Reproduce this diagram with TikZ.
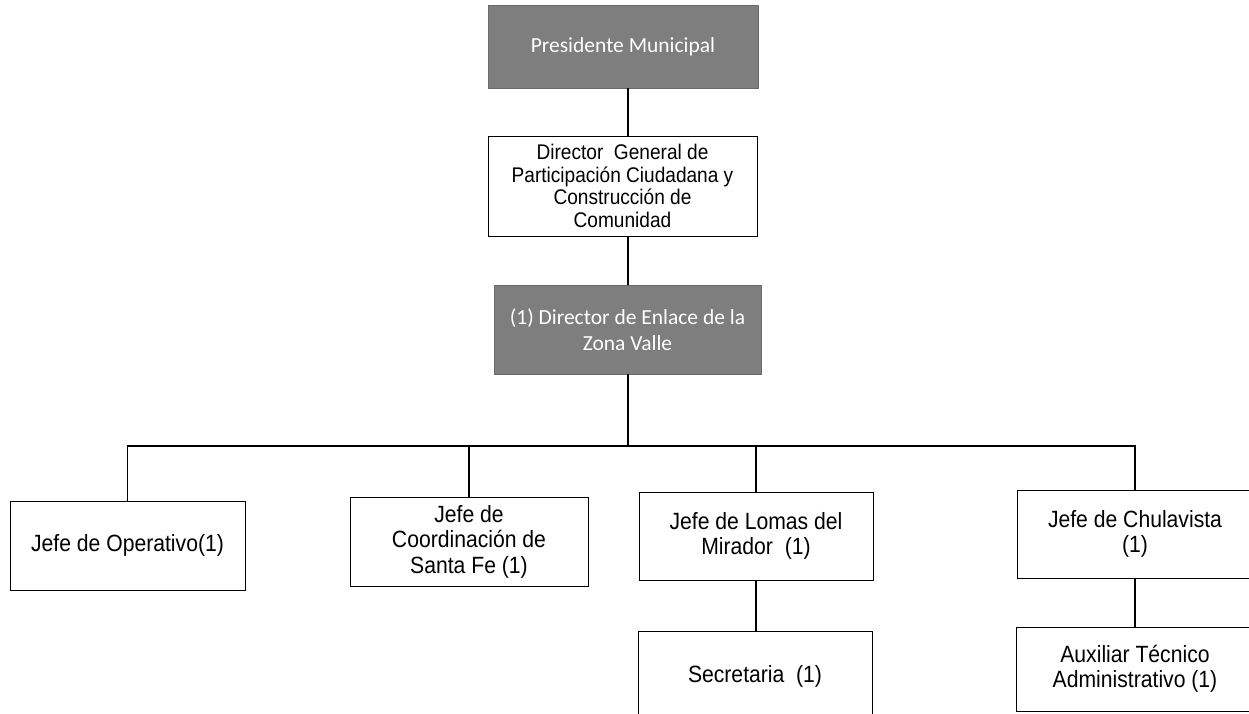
\documentclass[tikz,border=0pt]{standalone}
\usepackage{fontspec}
\setmainfont{Liberation Sans}[FakeStretch=0.9]
\newfontfamily\headfont{Carlito}
\definecolor{headfill}{RGB}{126,126,126}
\begin{document}
\begin{tikzpicture}[x=1pt,y=-1pt,
  unit/.style={draw=black, line width=1pt, fill=white, inner sep=0pt,
    align=center, font=\fontsize{23.5}{25.5}\selectfont},
  head/.style={fill=headfill, draw=headfill!85!black, inner sep=0pt,
    align=center, text=white, font=\headfont\fontsize{21.5}{26}\selectfont},
  link/.style={line width=1.4pt, draw=black}]
\clip (0,0) rectangle (1249,713);
\fill[white] (0,0) rectangle (1249,713);

% top of the chart
\node[head, minimum width=270pt, minimum height=83pt] (pres) at (623,46.5) {Presidente Municipal};
\node[unit, minimum width=269pt, minimum height=100pt, font=\fontsize{21.2}{22.7}\selectfont] (dg) at (622.5,186)
  {Director\ \ General de\\Participación Ciudadana y\\Construcción de\\Comunidad};
\node[head, minimum width=267pt, minimum height=89pt] (zv) at (627.5,329.5)
  {(1) Director de Enlace de la\\Zona Valle};

% heads of area
\node[unit, minimum width=235pt, minimum height=89pt] (op) at (127.5,545.5) {Jefe de Operativo(1)};
\node[unit, minimum width=238pt, minimum height=89pt] (sf) at (469,541.5) {Jefe de\\Coordinación de\\Santa Fe (1)};
\node[unit, minimum width=234pt, minimum height=88pt] (lm) at (756,536) {Jefe de Lomas del\\Mirador\ \ (1)};
\node[unit, minimum width=236pt, minimum height=88pt] (ch) at (1135,534) {Jefe de Chulavista\\(1)};

% support staff
\node[unit, minimum width=234pt, minimum height=90pt] (sec) at (755,676) {Secretaria\ \ (1)};
\node[unit, minimum width=237pt, minimum height=84pt] (aux) at (1135,669) {Auxiliar Técnico\\Administrativo (1)};

% connectors
\coordinate (spine) at (628,446);
\draw[link] (pres.south -| spine) -- (dg.north -| spine);
\draw[link] (dg.south -| spine) -- (zv.north -| spine);
\draw[link] (zv.south -| spine) -- (spine);
\draw[link] (op.north) -- (op.north |- spine) -- (ch.north |- spine) -- (ch.north);
\draw[link] (sf.north) -- (sf.north |- spine);
\draw[link] (lm.north) -- (lm.north |- spine);
\draw[link] (lm.south) -- (sec.north -| lm.south);
\draw[link] (ch.south) -- (aux.north -| ch.south);
\end{tikzpicture}
\end{document}
